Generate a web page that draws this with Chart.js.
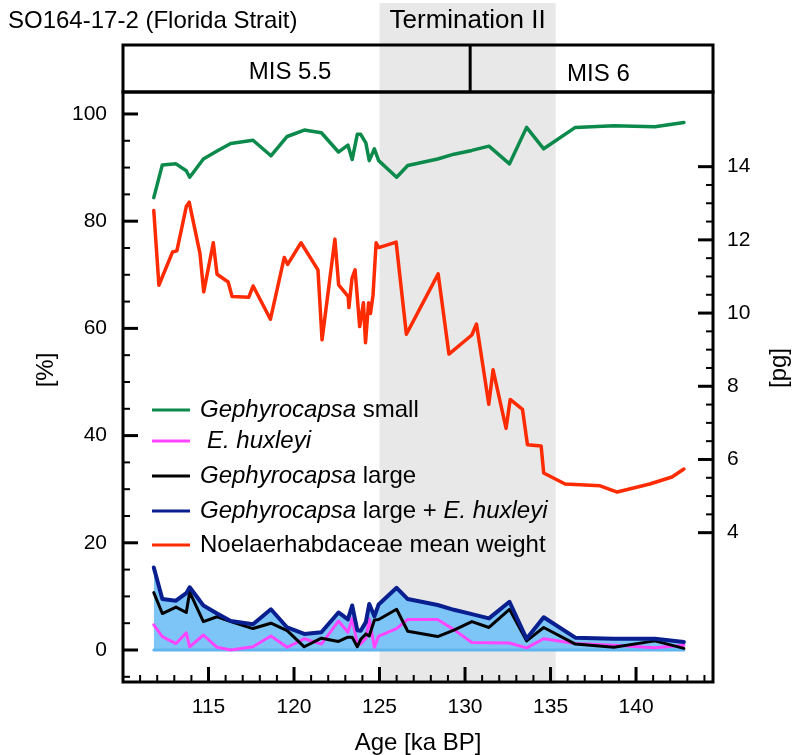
<!DOCTYPE html>
<html><head><meta charset="utf-8">
<script src="https://cdn.jsdelivr.net/npm/chart.js@4.4.1/dist/chart.umd.min.js"></script>
<style>html,body{margin:0;padding:0;background:#fff;}canvas{display:block}</style>
</head><body>
<canvas id="c" width="795" height="755" style="width:795px;height:755px"></canvas>
<script>
// ---- data ----
const ages = [111.8, 112.3, 113.1, 113.7, 113.9, 114.7, 115.5, 116.3, 117.6, 118.65, 119.6, 120.6, 121.6, 122.6, 123.15, 123.4, 123.7, 123.9, 124.2, 124.4, 124.7, 124.95, 126.0, 126.65, 128.4, 129.35, 130.4, 131.4, 132.6, 133.6, 134.6, 136.45, 138.7, 141.1, 142.8];
const gephSmall = [84.4, 90.5, 90.7, 89.4, 88.2, 91.6, 93.1, 94.5, 95.1, 92.2, 95.8, 97.0, 96.5, 92.9, 94.2, 91.5, 96.2, 96.2, 94.6, 91.3, 93.5, 91.3, 88.2, 90.4, 91.6, 92.5, 93.2, 94.0, 90.7, 97.5, 93.5, 97.5, 97.8, 97.6, 98.4];
const eHuxleyi = [4.7, 2.5, 1.2, 3.2, 0.6, 2.8, 0.5, 0.0, 0.6, 2.6, 0.5, 2.1, 1.1, 5.4, 3.3, 5.9, 1.2, 1.1, 2.2, 5.8, 0.5, 2.6, 4.0, 5.7, 5.7, 3.8, 1.4, 1.35, 1.3, 0.4, 2.1, 1.2, 0.9, 0.4, 0.9];
const gephLarge = [10.7, 6.8, 8.0, 7.0, 10.8, 5.3, 6.2, 5.3, 4.0, 5.0, 3.6, 0.6, 2.2, 1.6, 2.4, 2.4, 0.6, 2.0, 3.0, 2.6, 5.6, 5.7, 7.6, 3.5, 2.5, 3.7, 5.3, 4.2, 7.6, 1.7, 4.2, 1.1, 0.5, 1.7, 0.3];
const gephLargePlusEhux = [15.4, 9.5, 9.2, 10.6, 11.7, 8.3, 6.8, 5.4, 4.8, 7.6, 4.2, 3.0, 3.3, 7.0, 5.7, 8.3, 3.7, 3.6, 5.2, 8.6, 6.3, 8.5, 11.6, 9.5, 8.4, 7.5, 6.7, 5.9, 9.0, 2.1, 6.1, 2.3, 2.1, 2.1, 1.5];
const weightAges = [111.8, 112.1, 112.9, 113.15, 113.7, 113.87, 114.5, 114.72, 115.28, 115.5, 116.15, 116.38, 117.35, 117.61, 118.62, 119.43, 119.63, 120.41, 121.4, 121.64, 122.39, 122.61, 123.17, 123.21, 123.39, 123.57, 123.84, 124.06, 124.18, 124.36, 124.47, 124.62, 124.8, 124.96, 125.97, 126.57, 128.43, 129.06, 130.4, 130.67, 131.39, 131.64, 132.4, 132.64, 133.36, 133.65, 134.45, 134.6, 135.85, 137.9, 138.9, 140.8, 142.1, 142.8];
const meanWeight = [12.80, 10.76, 11.67, 11.70, 12.91, 13.03, 11.63, 10.58, 11.92, 11.06, 10.85, 10.45, 10.43, 10.74, 9.83, 11.52, 11.33, 11.92, 11.18, 9.27, 12.02, 10.77, 10.45, 10.15, 10.95, 11.18, 9.63, 10.28, 9.19, 10.28, 9.99, 10.49, 11.92, 11.79, 11.94, 9.42, 11.07, 8.88, 9.40, 9.70, 7.51, 8.45, 6.85, 7.64, 7.37, 6.40, 6.37, 5.63, 5.33, 5.28, 5.11, 5.33, 5.52, 5.74];
const xTickLabels = [115, 120, 125, 130, 135, 140];
const leftTickLabels = [0, 20, 40, 60, 80, 100];
const rightTickLabels = [4, 6, 8, 10, 12, 14];
const terminationII = [125, 135.3];
const misBoundary = 130.3;

const FONT = '"Liberation Sans", Arial, Helvetica, sans-serif';
const pts = (xs, ys) => xs.map((v, i) => ({x: v, y: ys[i]}));

function seg(ctx, x1, y1, x2, y2) { ctx.beginPath(); ctx.moveTo(x1, y1); ctx.lineTo(x2, y2); ctx.stroke(); }

function drawRuns(ctx, runs, x, y, size) {
  let cx = x;
  for (const [t, it] of runs) {
    ctx.font = (it ? 'italic ' : '') + size + 'px ' + FONT;
    ctx.fillText(t, cx, y);
    cx += ctx.measureText(t).width;
  }
}

const decor = {
  id: 'decor',
  beforeDraw(chart) {
    const {ctx, chartArea: a, scales: {x}} = chart;
    ctx.save();
    ctx.fillStyle = '#fff';
    ctx.fillRect(0, 0, chart.width, chart.height);
    const x0 = x.getPixelForValue(terminationII[0]), x1 = x.getPixelForValue(terminationII[1]);
    ctx.fillStyle = '#e8e8e8';
    ctx.fillRect(x0, 3, x1 - x0, a.bottom + 2 - 3);
    ctx.restore();
  },
  afterDatasetsDraw(chart) {
    const {ctx, chartArea: a, scales: {x, y, y2}} = chart;
    ctx.save();
    ctx.strokeStyle = '#000';
    ctx.lineCap = 'butt';
    // ticks (inward)
    for (let v = 111; v <= 144; v++) {
      const p = x.getPixelForValue(v), maj = v % 5 === 0;
      ctx.lineWidth = maj ? 3 : 2;
      seg(ctx, p, a.bottom, p, a.bottom - (maj ? 15 : 7));
    }
    for (let v = -5; v <= 100; v += 5) {
      const p = y.getPixelForValue(v), maj = v % 20 === 0;
      ctx.lineWidth = maj ? 3 : 2;
      seg(ctx, a.left, p, a.left + (maj ? 15 : 7), p);
    }
    for (let v = 4; v <= 14; v += 0.5) {
      const p = y2.getPixelForValue(v), maj = v % 2 === 0;
      ctx.lineWidth = maj ? 3 : 2;
      seg(ctx, a.right, p, a.right - (maj ? 15 : 7), p);
    }
    // frame + header box
    ctx.lineWidth = 3;
    ctx.strokeRect(a.left, a.top, a.right - a.left, a.bottom - a.top);
    const hTop = 45;
    ctx.strokeRect(a.left, hTop, a.right - a.left, a.top - hTop);
    const xd = x.getPixelForValue(misBoundary);
    seg(ctx, xd, hTop, xd, a.top);
    // texts
    ctx.fillStyle = '#000';
    ctx.textBaseline = 'middle';
    ctx.font = '24px ' + FONT;
    ctx.textAlign = 'left';
    ctx.fillText('SO164-17-2 (Florida Strait)', 8, 21);
    ctx.textAlign = 'center';
    ctx.fillText('MIS 5.5', x.getPixelForValue(119.77), 72);
    ctx.fillText('MIS 6', x.getPixelForValue(137.8), 74);
    ctx.fillText('Age [ka BP]', 418, 743);
    ctx.save(); ctx.translate(46, 370); ctx.rotate(-Math.PI / 2); ctx.fillText('[%]', 0, 0); ctx.restore();
    ctx.save(); ctx.translate(779, 368); ctx.rotate(-Math.PI / 2); ctx.fillText('[pg]', 0, 0); ctx.restore();
    ctx.font = '26px ' + FONT;
    const x0 = x.getPixelForValue(terminationII[0]), x1 = x.getPixelForValue(terminationII[1]);
    ctx.fillText('Termination II', (x0 + x1) / 2, 21);
    // legend
    const legend = [
      ['#0b8a4c', [['Gephyrocapsa', true], [' small', false]], 410, 200],
      ['#ff45ff', [['E. huxleyi', true]], 441, 207],
      ['#000000', [['Gephyrocapsa', true], [' large', false]], 476, 200],
      ['#0a1f8f', [['Gephyrocapsa', true], [' large + ', false], ['E. huxleyi', true]], 511, 200],
      ['#ff2b00', [['Noelaerhabdaceae mean weight', false]], 545, 200]
    ];
    ctx.textAlign = 'left';
    for (const [col, runs, ly, tx] of legend) {
      ctx.strokeStyle = col; ctx.lineWidth = 3;
      seg(ctx, 152, ly, 190, ly);
      drawRuns(ctx, runs, tx, ly, 24);
    }
    ctx.restore();
  }
};

const tickFont = {family: FONT, size: 21};
const zeros = ages.map(() => 0);
const noGrid = {display: false, drawTicks: false};

new Chart(document.getElementById('c'), {
  type: 'line',
  data: {
    datasets: [
      {label: 'fill', data: pts(ages, gephLargePlusEhux), yAxisID: 'y', borderWidth: 0, borderColor: 'rgba(0,0,0,0)',
       backgroundColor: '#7cc5f6', fill: 'origin', pointRadius: 0, order: 10},
      {label: 'base', data: pts(ages, zeros), yAxisID: 'y', borderColor: '#5fb5f0', borderWidth: 3, pointRadius: 0, fill: false, order: 9},
      {label: 'E. huxleyi', data: pts(ages, eHuxleyi), yAxisID: 'y', borderColor: '#ff45ff', borderWidth: 3, pointRadius: 0, fill: false, order: 8},
      {label: 'Gephyrocapsa large', data: pts(ages, gephLarge), yAxisID: 'y', borderColor: '#000000', borderWidth: 3, pointRadius: 0, fill: false, order: 7},
      {label: 'Gephyrocapsa large + E. huxleyi', data: pts(ages, gephLargePlusEhux), yAxisID: 'y', borderColor: '#0a1f8f', borderWidth: 4, pointRadius: 0, fill: false, order: 6},
      {label: 'Gephyrocapsa small', data: pts(ages, gephSmall), yAxisID: 'y', borderColor: '#0b8a4c', borderWidth: 3.5, pointRadius: 0, fill: false, order: 5},
      {label: 'Noelaerhabdaceae mean weight', data: pts(weightAges, meanWeight), yAxisID: 'y2', borderColor: '#ff2b00', borderWidth: 3.5, pointRadius: 0, fill: false, order: 4}
    ]
  },
  options: {
    responsive: false, animation: false, devicePixelRatio: 1,
    layout: {padding: {top: 92, left: 0, right: 0, bottom: 0}},
    plugins: {legend: {display: false}, tooltip: {enabled: false}},
    elements: {line: {tension: 0, borderJoinStyle: 'round', borderCapStyle: 'round'}},
    scales: {
      x: {type: 'linear', position: 'bottom', min: 110, max: 144.5,
          grid: noGrid, border: {display: false},
          afterBuildTicks: s => { s.ticks = xTickLabels.map(v => ({value: v})); },
          afterFit: s => { s.height = 73; },
          ticks: {font: tickFont, color: '#000', padding: 13, maxRotation: 0, autoSkip: false, callback: v => String(v)}},
      y: {type: 'linear', position: 'left', min: -5.97, max: 104.1,
          grid: noGrid, border: {display: false},
          afterBuildTicks: s => { s.ticks = leftTickLabels.map(v => ({value: v})); },
          afterFit: s => { s.width = 123; },
          ticks: {font: tickFont, color: '#000', padding: 16, autoSkip: false, callback: v => String(v)}},
      y2: {type: 'linear', position: 'right', min: -0.08, max: 16.04,
          grid: noGrid, border: {display: false},
          afterBuildTicks: s => { s.ticks = rightTickLabels.map(v => ({value: v})); },
          afterFit: s => { s.width = 82; },
          ticks: {font: tickFont, color: '#000', padding: 14, autoSkip: false, callback: v => String(v)}}
    }
  },
  plugins: [decor]
});
</script>
</body></html>
